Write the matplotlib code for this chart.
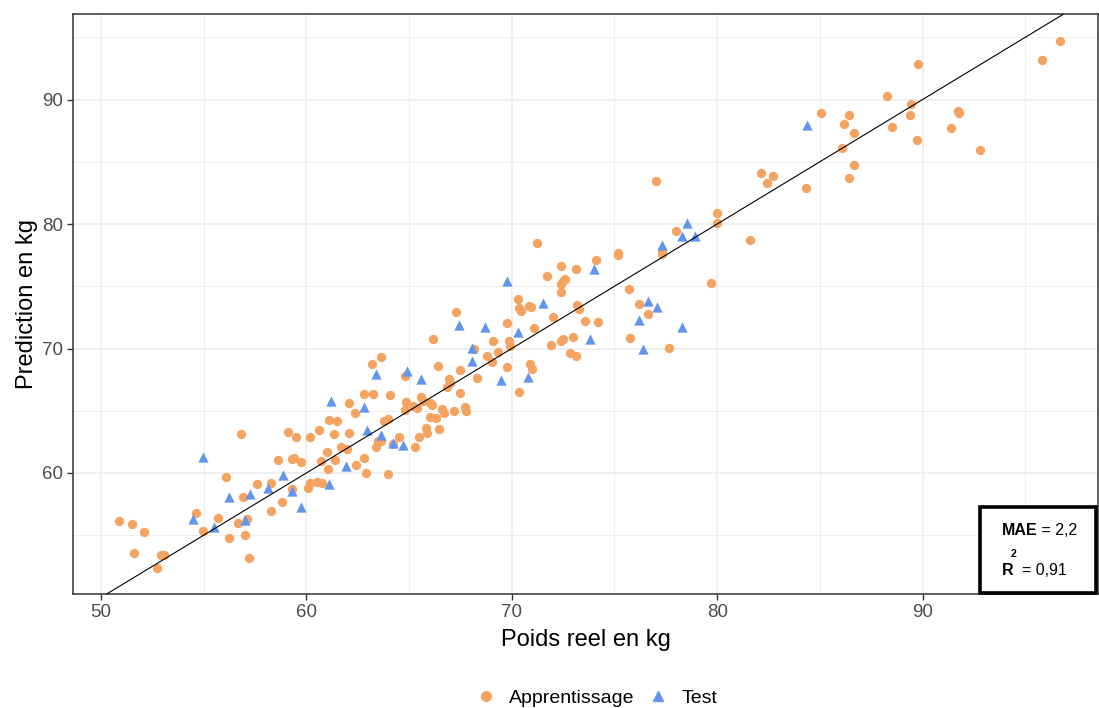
import matplotlib
matplotlib.use("Agg")
import matplotlib.pyplot as plt
from matplotlib import font_manager
from matplotlib.lines import Line2D
from matplotlib.patches import Rectangle
from matplotlib.ticker import MultipleLocator

# --- data (poids reel, prediction) ---
train_x = [50.88, 51.49, 52.11, 51.59, 52.92, 53.08, 52.71, 56.82, 56.10, 54.61,
           54.97, 55.68, 56.22, 56.93, 56.69, 57.11, 57.00, 57.21, 58.29, 58.81,
           66.16, 63.21, 63.62, 66.41, 64.80, 66.96, 66.99, 66.86, 62.81, 63.26,
           64.09, 62.07, 62.38, 61.09, 61.51, 64.86, 65.21, 65.57, 65.67, 66.02,
           66.12, 65.37, 64.82, 63.97, 63.76, 66.60, 66.71, 67.19, 67.71, 67.77,
           66.00, 66.30, 66.47, 65.81, 65.86, 65.48, 65.29, 64.50, 63.49, 63.62,
           63.39, 64.23, 62.07, 61.33, 60.60, 60.19, 59.48, 59.11, 61.69, 61.96,
           60.99, 60.70, 61.38, 59.75, 59.40, 59.29, 58.60, 61.07, 62.79, 62.40,
           62.90, 63.96, 60.50, 60.75, 60.18, 60.06, 59.29, 58.29, 57.58,
           71.21, 75.19, 75.19, 74.10, 72.40, 73.11, 71.70, 72.59, 72.51, 72.40,
           72.41, 75.72, 70.32, 70.37, 70.43, 70.85, 70.95, 67.30, 73.18, 73.26,
           71.99, 76.18, 76.62, 73.58, 74.18, 69.78, 71.10, 73.00, 75.77, 72.51,
           72.40, 69.07, 69.88, 69.91, 71.92, 68.18, 69.31, 68.78, 69.05, 72.84,
           73.11, 77.66, 70.89, 70.97, 69.78, 67.48, 68.32, 70.37, 67.48, 77.99,
           77.31, 77.31,
           96.69, 95.80, 89.77, 88.28, 89.45, 89.39, 86.41, 86.19, 85.04, 86.68,
           88.51, 89.72, 91.71, 91.78, 91.37, 92.78, 86.09, 86.68, 86.41, 82.12,
           82.73, 82.41, 84.33, 79.98, 79.98, 81.58, 79.70, 77.02]
train_y = [56.17, 55.88, 55.28, 53.55, 53.41, 53.41, 52.34, 63.13, 59.70, 56.76,
           55.34, 56.39, 54.75, 58.05, 55.96, 56.28, 55.02, 53.15, 56.97, 57.67,
           70.76, 68.76, 69.29, 68.60, 67.79, 67.53, 67.21, 66.88, 66.35, 66.35,
           66.24, 65.60, 64.80, 64.26, 64.20, 65.70, 65.38, 66.08, 65.81, 65.60,
           65.44, 65.22, 65.06, 64.36, 64.20, 65.12, 64.80, 65.00, 65.28, 65.00,
           64.52, 64.39, 63.56, 63.59, 63.24, 62.92, 62.09, 62.87, 62.59, 62.55,
           62.09, 62.33, 63.21, 63.13, 63.43, 62.92, 62.89, 63.32, 62.11, 61.90,
           61.66, 60.99, 61.04, 60.86, 61.23, 61.15, 61.07, 60.32, 61.18, 60.62,
           60.02, 59.92, 59.30, 59.17, 59.22, 58.82, 58.71, 59.22, 59.12,
           78.50, 77.70, 77.51, 77.11, 76.63, 76.41, 75.85, 75.58, 75.42, 75.16,
           74.56, 74.78, 74.00, 73.23, 73.04, 73.39, 73.36, 72.91, 73.52, 73.17,
           72.51, 73.60, 72.80, 72.23, 72.13, 72.03, 71.67, 70.95, 70.87, 70.74,
           70.58, 70.58, 70.58, 70.20, 70.28, 69.96, 69.70, 69.40, 68.89, 69.62,
           69.40, 70.07, 68.73, 68.35, 68.54, 68.27, 67.63, 66.53, 66.45, 79.46,
           77.91, 77.59,
           94.73, 93.18, 92.86, 90.31, 89.67, 88.73, 88.73, 88.04, 88.94, 87.29,
           87.79, 86.73, 89.06, 88.94, 87.69, 85.92, 86.13, 84.74, 83.67, 84.07,
           83.88, 83.30, 82.89, 80.86, 80.06, 78.69, 75.24, 83.46]

test_x = [54.98, 54.48, 55.52, 56.25, 57.00, 59.74, 65.58, 64.90, 63.39, 62.81,
          61.20, 62.97, 63.63, 64.69, 64.23, 61.91, 58.88, 58.12, 61.09, 59.31,
          57.25, 78.55, 78.30, 78.92, 77.32, 74.00, 69.78, 71.50, 67.43, 68.70,
          70.32, 73.81, 76.63, 77.08, 76.18, 78.30, 76.37, 68.08, 68.08, 69.49,
          70.80, 84.39]
test_y = [61.26, 56.33, 55.69, 58.10, 56.22, 57.24, 67.53, 68.22, 67.95, 65.33,
          65.76, 63.45, 63.08, 62.27, 62.39, 60.59, 59.82, 58.80, 59.09, 58.53,
          58.29, 80.06, 79.04, 79.04, 78.32, 76.41, 75.42, 73.66, 71.86, 71.73,
          71.33, 70.76, 73.79, 73.36, 72.29, 71.75, 69.96, 70.07, 68.97, 67.47,
          67.74, 87.98]

x_ticks = [50, 60, 70, 80, 90]
y_ticks = [60, 70, 80, 90]
mae_txt = "2,2"
r2_txt = "0,91"

# --- fonts ---
names = {f.name for f in font_manager.fontManager.ttflist}
base = "Liberation Sans" if "Liberation Sans" in names else "DejaVu Sans"
narrow = "Liberation Sans Narrow" if "Liberation Sans Narrow" in names else base
plt.rcParams["font.family"] = [base, "DejaVu Sans"]

orange = "#F4A460"
blue = "#6495ED"
grid_c = "#EBEBEB"

fig = plt.figure(figsize=(10.99, 7.08), dpi=100)
ax = fig.add_axes([73 / 1099, 1 - 594 / 708, 1025 / 1099, 580 / 708])

ax.set_xlim(48.64, 98.54)
ax.set_ylim(50.28, 96.87)

ax.xaxis.set_minor_locator(MultipleLocator(5))
ax.yaxis.set_minor_locator(MultipleLocator(5))
ax.set_xticks(x_ticks)
ax.set_yticks(y_ticks)
ax.grid(which="major", color=grid_c, lw=1.1, zorder=0)
ax.grid(which="minor", color=grid_c, lw=0.6, zorder=0)
ax.set_axisbelow(True)
for s in ax.spines.values():
    s.set_color("#333333")
    s.set_linewidth(1.1)

ax.tick_params(which="major", length=4, width=1, color="#333333",
               labelsize=13.5, labelcolor="#4D4D4D", pad=3)
ax.tick_params(which="minor", length=0)

ax.scatter(train_x, train_y, s=45, marker="o", color=orange, linewidths=0, zorder=2)
ax.scatter(test_x, test_y, s=55, marker="^", color=blue, linewidths=0, zorder=2)

lim = [ax.get_xlim()[0], ax.get_xlim()[1]]
ax.plot(lim, lim, color="black", lw=0.8, zorder=3)

ax.set_xlabel("Poids reel en kg", fontsize=17, labelpad=6)
ax.set_ylabel("Prediction en kg", fontsize=17, labelpad=3)

# annotation box
ax.add_patch(Rectangle((0.885, 0.002), 0.113, 0.148, transform=ax.transAxes,
                       facecolor="white", edgecolor="black", lw=2.6,
                       zorder=5, clip_on=False))
fs = 13 if narrow != base else 11.5
t1 = ax.text(0.906, 0.110, "MAE", transform=ax.transAxes, fontsize=fs,
             fontweight="bold", family=narrow, va="center", zorder=6)
ax.annotate(" = " + mae_txt, xy=(1, 0), xycoords=t1, va="bottom",
            fontsize=fs, family=narrow, zorder=6)
t2 = ax.text(0.906, 0.041, "R", transform=ax.transAxes, fontsize=fs,
             fontweight="bold", family=narrow, va="center", zorder=6)
ax.annotate("2", xy=(0.5, 1), xycoords=t2, xytext=(2, 3),
            textcoords="offset points", ha="left", va="bottom",
            fontsize=7.5, fontweight="bold", family=narrow, zorder=6)
ax.annotate("  = " + r2_txt, xy=(1, 0), xycoords=t2, va="bottom",
            fontsize=fs, family=narrow, zorder=6)

handles = [Line2D([], [], ls="", marker="o", color=orange, markersize=7),
           Line2D([], [], ls="", marker="^", color=blue, markersize=7.5)]
fig.legend(handles, ["Apprentissage", "Test"], ncol=2, frameon=False,
           loc="center", bbox_to_anchor=(0.542, 0.014), fontsize=14,
           handlelength=1.2, handletextpad=0.6, columnspacing=0.6)

fig.savefig("out.png", dpi=100)
